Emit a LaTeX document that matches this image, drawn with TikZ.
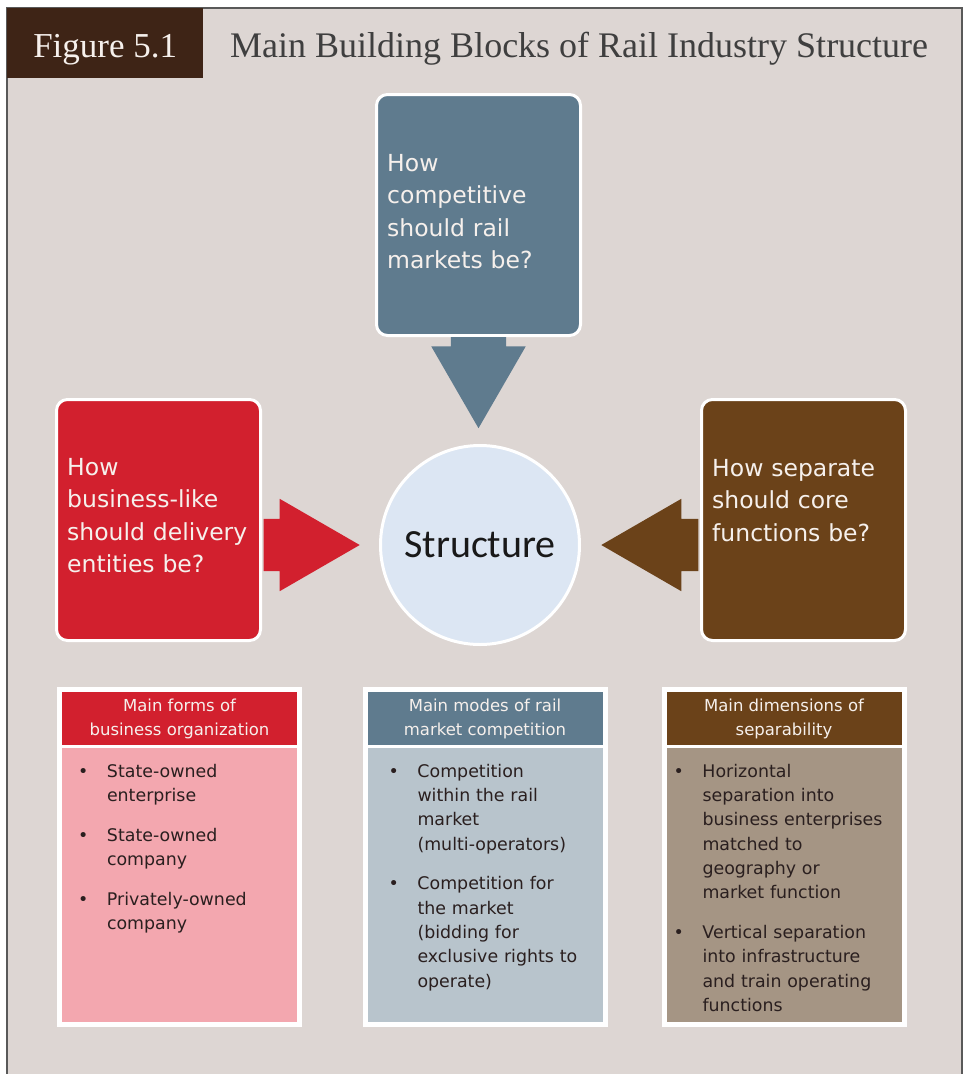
\documentclass[tikz,border=0pt]{standalone}
\usepackage{fontspec}
\setmainfont{Liberation Serif}
\setsansfont{DejaVu Sans}
\newfontfamily\calibrifont{Carlito}
\usetikzlibrary{shapes,arrows,positioning}

\definecolor{panelbg}{HTML}{DDD6D3}
\definecolor{figbrown}{HTML}{3E2416}
\definecolor{titlegray}{HTML}{3F3F3F}
\definecolor{slate}{HTML}{5F7B8E}
\definecolor{railred}{HTML}{D2202E}
\definecolor{coffee}{HTML}{6B4219}
\definecolor{paleblue}{HTML}{DCE6F3}
\definecolor{rosepink}{HTML}{F3A7AF}
\definecolor{slatelight}{HTML}{B8C4CC}
\definecolor{taupe}{HTML}{A59584}
\definecolor{inktext}{HTML}{2A1F1F}
\definecolor{offwhite}{HTML}{F6F0EC}

\newcommand{\bitem}[1]{\hangindent=29pt\hangafter=1\makebox[29pt][l]{\textbullet}{\let\\\newline#1}\par}
\newcommand{\bgap}{\vspace{15.5pt}}

\begin{document}
\begin{tikzpicture}[x=1pt,y=-1pt,
    question/.style={draw=white,line width=3pt,rounded corners=11pt,minimum width=204pt,minimum height=241pt,inner sep=0pt},
    qtext/.style={font=\sffamily\fontsize{23.5}{32.5}\selectfont,text=offwhite,text width=190pt,align=left,anchor=base west,inner sep=0pt},
    bigarrow/.style={single arrow,inner xsep=0pt,inner ysep=26pt,minimum width=92pt,minimum height=96pt,single arrow head extend=20pt,single arrow tip angle=60},
    listframe/.style={fill=white,minimum width=245pt,minimum height=340pt,inner sep=0pt},
    listhead/.style={minimum width=235pt,minimum height=53pt,inner sep=0pt,align=center,text=offwhite,font=\sffamily\fontsize{16.5}{24}\selectfont},
    listbody/.style={minimum width=235pt,minimum height=274pt,inner sep=0pt,below=3pt},
    listtext/.style={font=\sffamily\fontsize{17.4}{24.3}\selectfont,text=inktext,text width=225pt,align=left,anchor=base west,inner sep=0pt}]
\useasboundingbox (0,0) rectangle (964,1074);
% panel and heading
\fill[panelbg] (7,8) rectangle (962,1074);
\draw[black!65,line width=1.2pt] (7,1074) -- (7,8) -- (962,8) -- (962,1074);
\node[fill=figbrown,minimum width=196pt,minimum height=70pt,anchor=north west,inner sep=0pt,text height=28pt,text depth=0pt,text=offwhite,font=\fontsize{35}{35}\selectfont] (FIG) at (7,8) {Figure 5.1};
\node[anchor=base west,inner sep=0pt,text=titlegray,font=\fontsize{36}{36}\selectfont] (TTL) at (230,57) {Main Building Blocks of Rail Industry Structure};

% the three questions and the centre
\node[circle,draw=white,line width=3pt,fill=paleblue,minimum size=199pt,text=black!90,font=\calibrifont\fontsize{40}{40}\selectfont] (S) at (480,545) {Structure};
\node[question,fill=slate] (Q1) at (478.5,215) {};
\node[question,fill=railred] (Q2) at (158.5,520) {};
\node[question,fill=coffee] (Q3) at (803.5,520) {};
\node[qtext,xshift=12pt,yshift=-78pt] (W1) at (Q1.north west) {How\\competitive\\should rail\\markets be?};
\node[qtext,xshift=12pt,yshift=-77pt] (W2) at (Q2.north west) {How\\business-like\\should delivery\\entities be?};
\node[qtext,xshift=12pt,yshift=-78pt] (W3) at (Q3.north west) {How separate\\should core\\functions be?};

\node[bigarrow,fill=slate,rotate=-90,inner ysep=27.5pt,minimum width=94pt,minimum height=91pt,single arrow head extend=19.5pt,anchor=tail,yshift=-1.5pt] (A1) at (S |- Q1.south) {};
\node[bigarrow,fill=railred,anchor=tail,xshift=1.5pt] (A2) at (Q2.east |- S) {};
\node[bigarrow,fill=coffee,shape border rotate=180,minimum height=97pt,anchor=tail,xshift=-1.5pt] (A3) at (Q3.west |- S) {};

% lists below
\node[listframe] (F1) at (179.5,857) {};
\node[listframe] (F2) at (485,857) {};
\node[listframe] (F3) at (784,857) {};
\node[listhead,fill=railred,anchor=north,yshift=-5pt] (H1) at (F1.north) {Main forms of\\business organization};
\node[listhead,fill=slate,anchor=north,yshift=-5pt] (H2) at (F2.north) {Main modes of rail\\market competition};
\node[listhead,fill=coffee,anchor=north,yshift=-5pt] (H3) at (F3.north) {Main dimensions of\\separability};
\node[listbody,fill=rosepink] (B1) at (H1.south) {};
\node[listbody,fill=slatelight] (B2) at (H2.south) {};
\node[listbody,fill=taupe] (B3) at (H3.south) {};

\node[listtext,xshift=16pt,yshift=-29pt] (L1) at (B1.north west) {%
  \bitem{State-owned\\enterprise}\bgap
  \bitem{State-owned\\company}\bgap
  \bitem{Privately-owned\\company}};
\node[listtext,xshift=21pt,yshift=-29pt] (L2) at (B2.north west) {%
  \bitem{Competition\\within the rail\\market\\(multi-operators)}\bgap
  \bitem{Competition for\\the market\\(bidding for\\exclusive rights to\\operate)}};
\node[listtext,xshift=7pt,yshift=-29pt] (L3) at (B3.north west) {%
  \bitem{Horizontal\\separation into\\business enterprises\\matched to\\geography or\\market function}\bgap
  \bitem{Vertical separation\\into infrastructure\\and train operating\\functions}};
\end{tikzpicture}
\end{document}
